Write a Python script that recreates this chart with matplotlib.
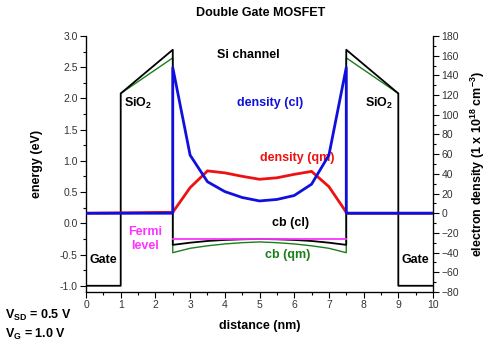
import numpy as np
import matplotlib
matplotlib.use("Agg")
import matplotlib.pyplot as plt

plt.rcParams['font.family'] = ['Liberation Sans', 'DejaVu Sans']
plt.rcParams['mathtext.fontset'] = 'custom'
plt.rcParams['mathtext.rm'] = 'Liberation Sans:bold'
plt.rcParams['mathtext.bf'] = 'Liberation Sans:bold'
plt.rcParams['mathtext.it'] = 'Liberation Sans:bold'

# ------------------------------
# Device geometry (nm) and band edges (eV)
# ------------------------------
gate_left = [0.0, 1.0]
gate_right = [9.0, 10.0]
gate_level = -1.0
oxide_low = 2.08        # barrier height at gate / oxide interface
oxide_high_cl = 2.78    # barrier height at oxide / Si interface (classical)
oxide_high_qm = 2.65    # barrier height at oxide / Si interface (quantum)
fermi_level = -0.245

# Channel grid, 0.5 nm spacing from 2.5 to 7.5 nm
x_ch = [2.5, 3.0, 3.5, 4.0, 4.5, 5.0, 5.5, 6.0, 6.5, 7.0, 7.5]

# Conduction band in the Si channel (eV)
cb_cl = [-0.345, -0.31, -0.283, -0.266, -0.256, -0.25, -0.256, -0.266, -0.283, -0.31, -0.345]
cb_qm = [-0.47, -0.40, -0.36, -0.33, -0.31, -0.298, -0.31, -0.33, -0.36, -0.40, -0.47]

# Electron density in the channel (1e18 cm^-3)
dens_cl = [148, 59, 32, 22, 16, 12.5, 14, 18, 29.5, 59, 148]
dens_qm = [1, 26, 43, 41, 37.5, 34.5, 36, 39.5, 42.5, 27, 1]

# ------------------------------
# Build the full band-diagram paths
# ------------------------------
xc = np.array(x_ch)
x_black = np.concatenate([[gate_left[0], gate_left[1], gate_left[1], xc[0], xc[0]], xc,
                          [xc[-1], xc[-1], gate_right[0], gate_right[0], gate_right[1]]])
y_black = np.concatenate([[gate_level, gate_level, oxide_low, oxide_high_cl, cb_cl[0]], cb_cl,
                          [cb_cl[-1], oxide_high_cl, oxide_low, gate_level, gate_level]])

x_green = np.concatenate([[gate_left[1], xc[0], xc[0]], xc, [xc[-1], xc[-1], gate_right[0]]])
y_green = np.concatenate([[oxide_low, oxide_high_qm, cb_qm[0]], cb_qm,
                          [cb_qm[-1], oxide_high_qm, oxide_low]])

x_dens = np.concatenate([[0.0, xc[0]], xc, [xc[-1], 10.0]])
y_cl = np.concatenate([[0, 0], dens_cl, [0, 0]])
y_qm = np.concatenate([[0, dens_qm[0]], dens_qm, [0, 0]])

# ------------------------------
# Plot
# ------------------------------
fig = plt.figure(figsize=(4.89, 3.49), dpi=100)
ax = fig.add_axes([0.1759, 0.1633, 0.7096, 0.7335])
ax2 = ax.twinx()

ax.plot(x_green, y_green, color='#1a7f1a', lw=1.0, zorder=2)
ax.plot(x_black, y_black, color='black', lw=1.3, zorder=3)
ax.plot([xc[0], xc[-1]], [fermi_level, fermi_level], color='#ff33ff', lw=1.3, zorder=4)

ax2.plot(x_dens, y_qm, color='#ee1111', lw=2.0, zorder=2)
ax2.plot(x_dens, y_cl, color='#1010dd', lw=2.0, zorder=3)

ax.set_xlim(0, 10)
ax.set_ylim(-1.1, 3.0)
ax2.set_ylim(-80, 180)

ax.set_xticks(np.arange(0, 11, 1))
ax.set_xticks(np.arange(0, 10.5, 0.5), minor=True)
ax.set_yticks(np.arange(-1.0, 3.01, 0.5))
ax.set_yticks(np.arange(-1.0, 3.01, 0.25), minor=True)
ax.set_yticklabels([f"{v:.1f}" for v in np.arange(-1.0, 3.01, 0.5)])
ax2.set_yticks(np.arange(-80, 181, 20))
ax2.set_yticks(np.arange(-80, 181, 10), minor=True)

for a in (ax, ax2):
    a.spines['top'].set_visible(False)
    a.tick_params(which='major', direction='out', length=4, width=0.8,
                  labelsize=7.5, labelcolor='#333333', pad=2)
    a.tick_params(which='minor', direction='out', length=2.5, width=0.8)
ax2.spines['right'].set_linewidth(0.9)
ax.spines['left'].set_linewidth(0.9)
ax.spines['bottom'].set_linewidth(0.9)

ax.set_xlabel("distance (nm)", fontsize=9, fontweight='bold', labelpad=7)
ax.set_ylabel("energy (eV)", fontsize=9, fontweight='bold', labelpad=12)
ax2.set_ylabel(r"electron density (1 x 10$^{18}$ cm$^{-3}$)", fontsize=9,
               fontweight='bold', labelpad=7)
fig.text(0.532, 0.963, "Double Gate MOSFET", ha='center', va='center',
         fontsize=9, fontweight='bold')

# Region and curve annotations
bold = dict(fontsize=9, fontweight='bold', ha='center', va='center')
ax.text(4.67, 2.69, "Si channel", color='black', **bold)
ax.text(1.5, 1.92, r"SiO$_\mathbf{2}$", color='black', **bold)
ax.text(8.45, 1.92, r"SiO$_\mathbf{2}$", color='black', **bold)
ax.text(5.3, 1.93, "density (cl)", color='#1010dd', **bold)
ax.text(6.08, 1.05, "density (qm)", color='#ee1111', **bold)
ax.text(5.9, 0.01, "cb (cl)", color='black', **bold)
ax.text(5.8, -0.51, "cb (qm)", color='#1a7f1a', **bold)
ax.text(1.7, -0.25, "Fermi\nlevel", color='#ff33ff', linespacing=1.2, **bold)
ax.text(0.49, -0.58, "Gate", color='black', **bold)
ax.text(9.48, -0.58, "Gate", color='black', **bold)

fig.text(0.010, 0.097, r"$\mathbf{V_{SD}}$ = 0.5 V", fontsize=9, fontweight='bold', va='center')
fig.text(0.010, 0.042, r"$\mathbf{V_{G}}$ = 1.0 V", fontsize=9, fontweight='bold', va='center')

fig.savefig("out.png", dpi=100)
